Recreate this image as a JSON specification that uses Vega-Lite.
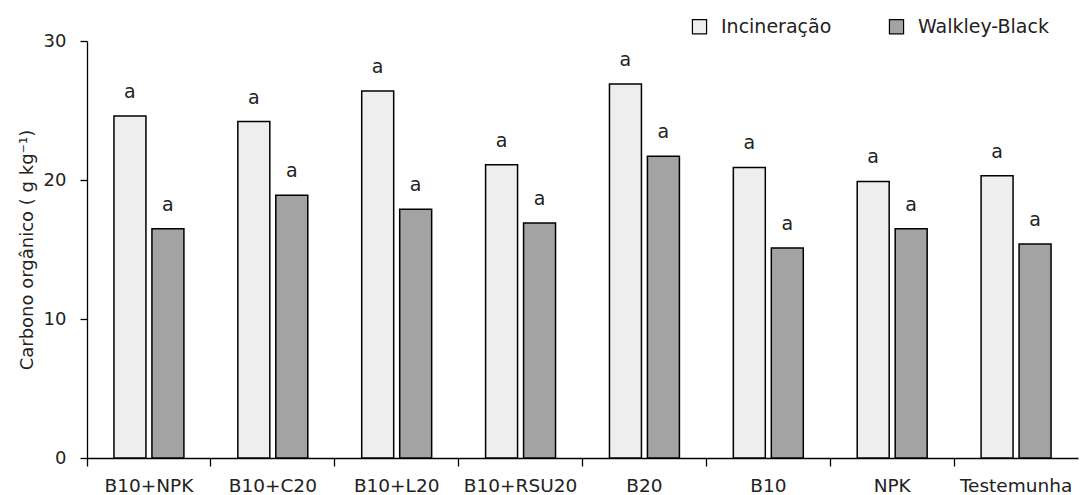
{
  "$schema": "https://vega.github.io/schema/vega-lite/v6.json",
  "autosize": {"type": "none"},
  "width": 991,
  "height": 417,
  "padding": {"left": 87, "top": 41, "right": 3, "bottom": 37},
  "background": "white",
  "config": {
    "font": "DejaVu Sans",
    "view": {"stroke": null},
    "axis": {"grid": false, "domainColor": "black", "tickColor": "black", "labelColor": "#222", "titleColor": "#222", "domainWidth": 1.3, "tickWidth": 1.3}
  },
  "data": {
    "values": [
      {"trat": "B10+NPK", "metodo": "Incineração", "valor": 24.6, "letra": "a"},
      {"trat": "B10+NPK", "metodo": "Walkley-Black", "valor": 16.5, "letra": "a"},
      {"trat": "B10+C20", "metodo": "Incineração", "valor": 24.2, "letra": "a"},
      {"trat": "B10+C20", "metodo": "Walkley-Black", "valor": 18.9, "letra": "a"},
      {"trat": "B10+L20", "metodo": "Incineração", "valor": 26.4, "letra": "a"},
      {"trat": "B10+L20", "metodo": "Walkley-Black", "valor": 17.9, "letra": "a"},
      {"trat": "B10+RSU20", "metodo": "Incineração", "valor": 21.1, "letra": "a"},
      {"trat": "B10+RSU20", "metodo": "Walkley-Black", "valor": 16.9, "letra": "a"},
      {"trat": "B20", "metodo": "Incineração", "valor": 26.9, "letra": "a"},
      {"trat": "B20", "metodo": "Walkley-Black", "valor": 21.7, "letra": "a"},
      {"trat": "B10", "metodo": "Incineração", "valor": 20.9, "letra": "a"},
      {"trat": "B10", "metodo": "Walkley-Black", "valor": 15.1, "letra": "a"},
      {"trat": "NPK", "metodo": "Incineração", "valor": 19.9, "letra": "a"},
      {"trat": "NPK", "metodo": "Walkley-Black", "valor": 16.5, "letra": "a"},
      {"trat": "Testemunha", "metodo": "Incineração", "valor": 20.3, "letra": "a"},
      {"trat": "Testemunha", "metodo": "Walkley-Black", "valor": 15.4, "letra": "a"}
    ]
  },
  "encoding": {
    "x": {
      "field": "trat", "type": "nominal", "sort": null,
      "scale": {"paddingInner": 0, "paddingOuter": 0},
      "axis": {"title": null, "labelAngle": 0, "bandPosition": 0, "tickSize": 8, "labelPadding": 10, "labelFontSize": 18.5, "labelBaseline": "top"}
    },
    "xOffset": {
      "field": "metodo", "type": "nominal",
      "scale": {"paddingInner": 0.158, "paddingOuter": 0.71}
    },
    "y": {
      "field": "valor", "type": "quantitative",
      "scale": {"domain": [0, 30], "nice": false},
      "axis": {"values": [0, 10, 20, 30], "tickSize": 7, "labelPadding": 14, "labelFontSize": 18, "title": "Carbono orgânico ( g kg⁻¹)", "titleFontSize": 18, "titleFontWeight": "normal", "titlePadding": 7}
    }
  },
  "layer": [
    {
      "mark": {"type": "bar", "stroke": "black", "strokeWidth": 1.5},
      "encoding": {
        "fill": {
          "field": "metodo", "type": "nominal",
          "scale": {"domain": ["Incineração", "Walkley-Black"], "range": ["#eeeeee", "#a3a3a3"]},
          "legend": {
            "title": null, "orient": "none", "direction": "horizontal",
            "legendX": 603, "legendY": -24,
            "symbolType": "square", "symbolSize": 200, "symbolStrokeColor": "black", "symbolStrokeWidth": 1.2,
            "labelFontSize": 19, "labelColor": "#222", "labelOffset": 12, "columnPadding": 55
          }
        }
      }
    },
    {
      "mark": {"type": "text", "dy": -18, "baseline": "alphabetic", "fontSize": 19, "color": "#222"},
      "encoding": {"text": {"field": "letra"}}
    }
  ]
}
